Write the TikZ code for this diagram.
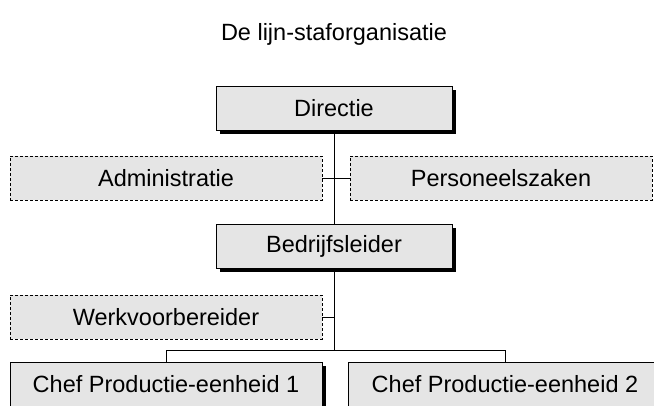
\documentclass[tikz,border=0pt]{standalone}
\usepackage{fontspec}
\setmainfont{Liberation Sans}
\usetikzlibrary{shadows}

\begin{document}
\begin{tikzpicture}[x=1pt,y=-1pt,line width=1pt,
    every node/.style={font=\fontsize{23.5}{28}\selectfont,inner sep=0pt},
    lijn/.style={draw,fill=gray!20,minimum height=44pt,
        drop shadow={shadow xshift=3.5pt,shadow yshift=-3.5pt,fill=black,opacity=1}},
    staf/.style={draw,line width=0.8pt,dash pattern=on 3pt off 2pt,fill=gray!20,minimum height=44pt}]
            \useasboundingbox (0,0) rectangle (654,405);
            \clip (0,0) rectangle (654,405);
            \node[anchor=base] (titel) at (334,40) {De lijn-staforganisatie};
            \node[lijn,minimum width=236pt] (directie) at (334,108) {Directie};
            \node[staf,minimum width=312pt] (admin) at (166,178) {Administratie};
            \node[staf,minimum width=302pt] (personeel) at (501,178) {Personeelszaken};
            \node[lijn,minimum width=236pt] (leider) at (334,246) {Bedrijfsleider};
            \node[staf,minimum width=312pt] (werk) at (166,317) {Werkvoorbereider};
            \coordinate (bus) at (334,350);
            \node[lijn,minimum width=312pt] (chef1) at (166,384) {Chef Productie-eenheid 1};
            \node[lijn,minimum width=314pt] (chef2) at (505,384) {Chef Productie-eenheid 2};
            \draw (directie)--(leider);
            \draw (admin)--(personeel);
            \draw (leider)--(bus);
            \draw (werk.east)--(werk.east -| bus);
            \draw (bus)-|(chef1);
            \draw (bus)-|(chef2);
        \end{tikzpicture}
\end{document}
